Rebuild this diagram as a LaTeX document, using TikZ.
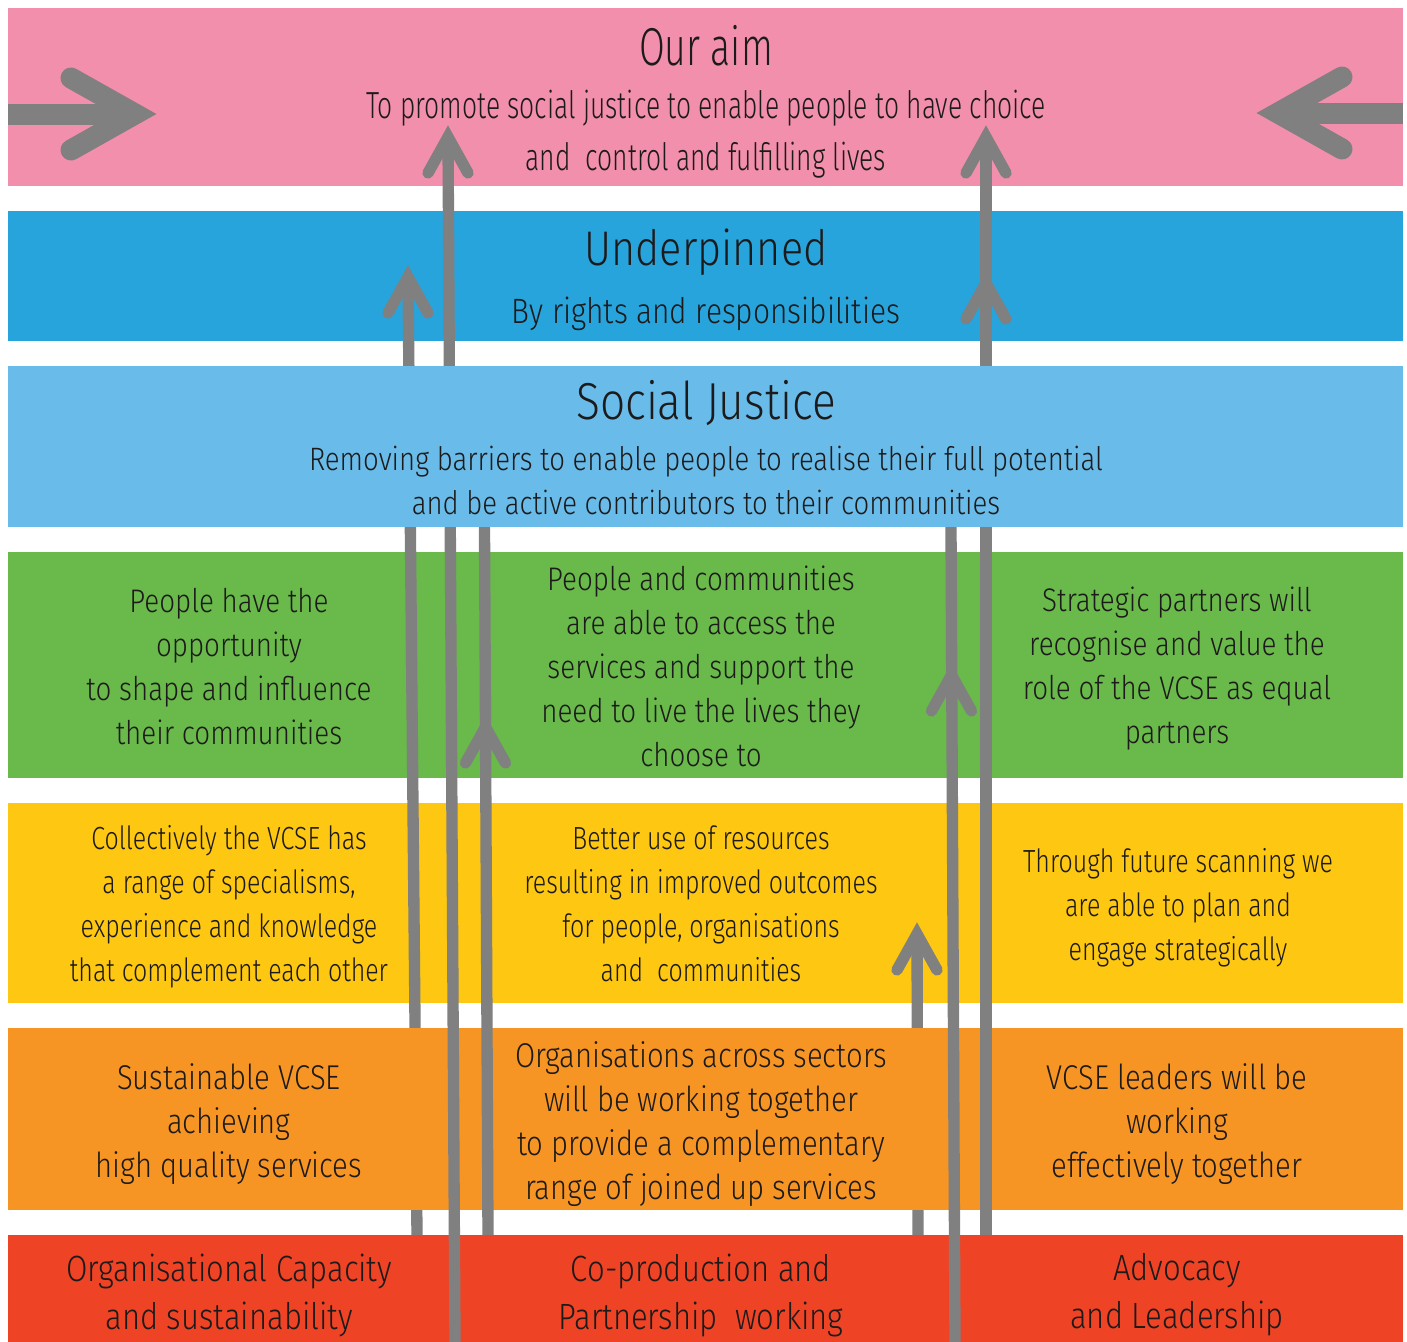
\documentclass[tikz,border=0pt]{standalone}
\usepackage{fontspec}
\setmainfont{Fira Sans Light}[FakeStretch=0.85]
\newfontfamily\narrowfont{Fira Sans Light}[FakeStretch=0.78]
\newfontfamily\aimfont{Fira Sans Light}[FakeStretch=0.7]
\usepackage{xcolor}
\usetikzlibrary{calc}

\definecolor{aimpink}{HTML}{F18FAC}
\definecolor{underblue}{HTML}{27A4DC}
\definecolor{justiceblue}{HTML}{69BCE9}
\definecolor{outcomegreen}{HTML}{6AB94B}
\definecolor{outcomeyellow}{HTML}{FDC712}
\definecolor{outcomeorange}{HTML}{F69523}
\definecolor{themered}{HTML}{EE4425}
\definecolor{flowgray}{HTML}{808080}
\definecolor{inkdark}{HTML}{1C1A1A}

\tikzset{
  band/.style={fill=#1, draw=none},
  flowline/.style={draw=flowgray, line width=8.5pt},
  chevron/.style={draw=flowgray, line width=8.5pt, line cap=round, line join=miter},
  bigline/.style={draw=flowgray, line width=15.75pt},
  bigchevron/.style={draw=flowgray, line width=15.75pt, line cap=round, line join=miter},
  headtext/.style={text=inkdark, inner sep=0pt, font=\fontsize{36.5}{42}\selectfont},
  subtext/.style={text=inkdark, inner sep=0pt, align=center, font=\fontsize{24.3}{33}\selectfont},
  celltext/.style={text=inkdark, inner sep=0pt, align=center, font=\fontsize{24.5}{33}\selectfont},
  narrowtext/.style={text=inkdark, inner sep=0pt, align=center, font=\narrowfont\fontsize{24}{33}\selectfont},
  themetext/.style={text=inkdark, inner sep=0pt, align=center, font=\fontsize{27.4}{36}\selectfont}
}
\newcommand{\upchevron}[1]{\draw[chevron] ($(#1)+(-20,36)$) -- (#1) -- ($(#1)+(20,36)$);}

\begin{document}
\begin{tikzpicture}[x=0.75pt,y=0.75pt,yscale=-1,xscale=1]
  \useasboundingbox (0,0) rectangle (1407,1342);

  % bands
  \fill[band=aimpink] (8,8) rectangle (1403,186);
  \fill[band=underblue] (8,211) rectangle (1403,341);
  \fill[band=outcomegreen] (8,552) rectangle (1403,778);
  \fill[band=outcomeyellow] (8,803) rectangle (1403,1003);
  \fill[band=themered] (8,1235) rectangle (1403,1342);

  % flow lines that pass under the orange band
  \coordinate (capfoot) at (417,1235);
  \coordinate (capmid) at (408,277);
  \coordinate (advfoot) at (918,1235);
  \coordinate (advmid) at (917,934);
  \draw[flowline] (capfoot) -- (capmid);
  \draw[flowline] (advfoot) -- (advmid);
  \upchevron{capmid}
  \upchevron{advmid}

  \fill[band=outcomeorange] (8,1028) rectangle (1403,1210);

  % flow lines on top
  \coordinate (capfoot2) at (455,1342);
  \coordinate (captop) at (448,137);
  \coordinate (cofoot) at (488,1235);
  \coordinate (cotop) at (484.5,527);
  \coordinate (cohead) at (485.5,727);
  \coordinate (advfoot2) at (955,1342);
  \coordinate (advtop2) at (951,527);
  \coordinate (advhead2) at (951.5,675);
  \coordinate (advfoot3) at (986,1235);
  \coordinate (advtop) at (986,137);
  \coordinate (advhead3) at (986,283);
  \draw[flowline] (capfoot2) -- (captop);
  \draw[flowline] (cofoot) -- (cotop);
  \draw[flowline] (advfoot2) -- (advtop2);
  \draw[flowline] (advfoot3) -- (advtop);
  \upchevron{captop}
  \upchevron{cohead}
  \upchevron{advhead2}
  \upchevron{advtop}
  \upchevron{advhead3}

  \fill[band=justiceblue] (8,366) rectangle (1403,527);

  % big side arrows
  \coordinate (leftin) at (8,114);
  \coordinate (leftvertex) at (135,114);
  \coordinate (rightin) at (1403,113);
  \coordinate (rightvertex) at (1278,113);
  \draw[bigline] (leftin) -- (leftvertex);
  \draw[bigchevron] ($(leftvertex)+(-64,-36)$) -- (leftvertex) -- ($(leftvertex)+(-64,36)$);
  \draw[bigline] (rightin) -- (rightvertex);
  \draw[bigchevron] ($(rightvertex)+(64,-36)$) -- (rightvertex) -- ($(rightvertex)+(64,36)$);

  % Text Node
  \node[headtext, font=\aimfont\fontsize{40}{44}\selectfont] (aim) at (706,46) {Our aim};
  \node[subtext, font=\aimfont\fontsize{28.3}{39}\selectfont] (aimtext) at (706,134) {To promote social justice to enable people to have choice\\and\ \ control and fulfilling lives};
  \node[headtext] (under) at (706,252) {Underpinned};
  \node[subtext, font=\fontsize{26.4}{33}\selectfont] (undertext) at (706,314) {By rights and responsibilities};
  \node[headtext, font=\fontsize{39}{44}\selectfont] (justice) at (706,403) {Social Justice};
  \node[subtext] (justicetext) at (706,480) {Removing barriers to enable people to realise their full potential\\and be active contributors to their communities};

  % outcomes
  \node[celltext] (greenl) at (229,667) {People have the\\opportunity\\to shape and influence\\their communities};
  \node[celltext] (greenm) at (701,666) {People and communities\\are able to access the\\services and support the\\need to live the lives they\\choose to};
  \node[celltext] (greenr) at (1177,669) {Strategic partners will\\recognise and value the\\role of the VCSE as equal\\partners};
  \node[narrowtext] (yellowl) at (229,907) {Collectively the VCSE has\\a range of specialisms,\\experience and knowledge\\that complement each other};
  \node[narrowtext] (yellowm) at (701,904) {Better use of resources\\resulting in improved outcomes\\for people, organisations\\and\ \ communities};
  \node[narrowtext] (yellowr) at (1178,908) {Through future scanning we\\are able to plan and\\engage strategically};
  \node[celltext, font=\fontsize{25.8}{33}\selectfont] (orangel) at (229,1124) {Sustainable VCSE\\achieving\\high quality services};
  \node[celltext, font=\fontsize{25.8}{33}\selectfont] (orangem) at (701,1124) {Organisations across sectors\\will be working together\\to provide a complementary\\range of joined up services};
  \node[celltext, font=\fontsize{25.8}{33}\selectfont] (oranger) at (1177,1124) {VCSE leaders will be\\working\\effectively together};

  % themes
  \node[themetext] (capacity) at (229,1295) {Organisational Capacity\\and sustainability};
  \node[themetext] (coprod) at (701,1295) {Co-production and\\Partnership\ \ working};
  \node[themetext] (advocacy) at (1177,1295) {Advocacy\\and Leadership};
\end{tikzpicture}
\end{document}
